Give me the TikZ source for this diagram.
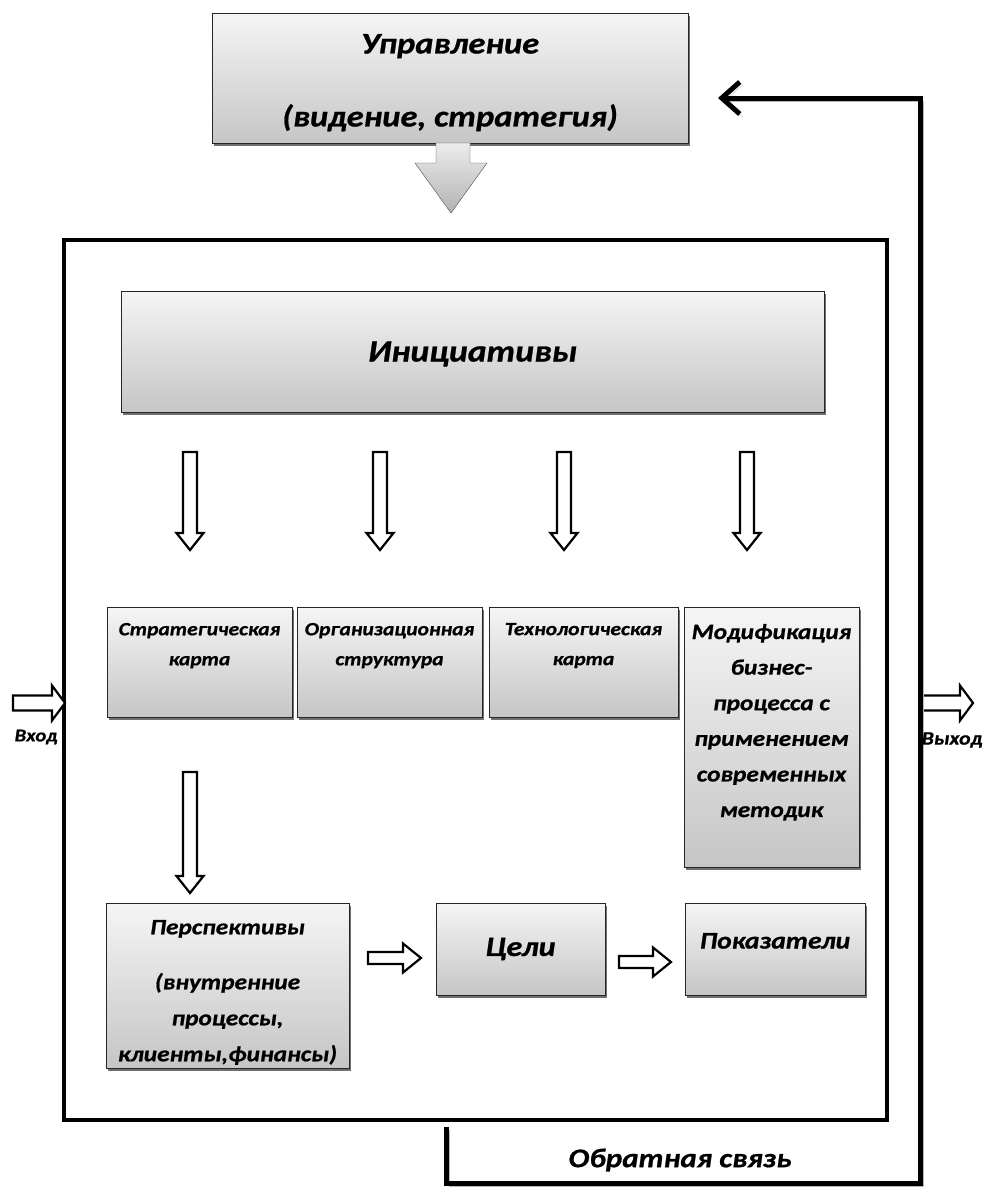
\documentclass[tikz,border=0pt]{standalone}
\usepackage{fontspec}
\setmainfont{Carlito}[FakeStretch=1.15,BoldItalicFeatures={FakeBold=0.8}]
\usetikzlibrary{shadows,arrows.meta}
\newcommand{\bfit}[2]{\fontsize{#1}{#2}\selectfont\bfseries\itshape}
\newcommand{\topbox}[4]{\parbox[c][#2][t]{#1}{\centering\vspace*{#3}#4}}
\tikzset{
	box/.style={draw=black!85,line width=1pt,top color=gray!8,bottom color=gray!45,inner sep=0pt,
		drop shadow={shadow xshift=2pt,shadow yshift=-2.5pt,fill=black!70,opacity=.8}},
	hollow/.style={draw,line width=2.2pt,fill=white,line join=miter},
	fb/.style={line width=5pt,line join=miter},
}
\begin{document}
\begin{tikzpicture}[x=1pt,y=-1pt,>=latex]
		\useasboundingbox (0,0) rectangle (984,1187);
		%cadre
		\node[draw,line width=4pt,minimum width=823pt,minimum height=880pt,inner sep=0pt] (frame) at (475.5,680) {};
		%blocs
		\node[box,font=\bfit{30}{36}] (ctrl) at (450,78) {\topbox{476pt}{130pt}{21pt}{Управление\\[37pt](видение, стратегия)}};
		\node[box,minimum width=703pt,minimum height=121pt,text depth=0pt,font=\bfit{31}{36}] (ini) at (472.5,351.5) {Инициативы};
		\node[box,font=\bfit{18.7}{30}] (strat) at (199.5,662) {\topbox{185pt}{110pt}{16pt}{Стратегическая\\карта}};
		\node[box,font=\bfit{18.7}{30}] (org) at (389.5,662) {\topbox{185pt}{110pt}{16pt}{Организационная\\структура}};
		\node[box,font=\bfit{18.7}{30}] (tech) at (583.5,662) {\topbox{189pt}{110pt}{16pt}{Технологическая\\карта}};
		\node[box,font=\bfit{22}{35.6}] (mod) at (771.5,737) {\topbox{175pt}{260pt}{17pt}{Модификация\\бизнес-\\процесса с\\применением\\современных\\методик}};
		\node[box,font=\bfit{22}{36}] (persp) at (227.5,985.5) {\topbox{243pt}{165pt}{17pt}{Перспективы\\[19pt](внутренние\\процессы,\\клиенты,финансы)}};
		\node[box,minimum width=169pt,minimum height=92pt,font=\bfit{28}{30}] (goals) at (520.5,949) {Цели};
		\node[box,font=\bfit{24}{30}] (ind) at (775,949) {\topbox{180pt}{92pt}{30pt}{Показатели}};
		%fleche grise
		\draw[draw=black!70,top color=gray!15,bottom color=gray!60] (436,143)--(470,143)--(470,163)--(487,163)--(451,213)--(415,163)--(436,163)--cycle ;
		%fleches creuses
		\foreach \x/\ya/\yb in {190/452/550,380/452/550,564/452/550,747/452/550,190/772/893}
		\draw[hollow] (\x-7,\ya)--(\x+7,\ya)--(\x+7,\yb-17)--(\x+13.5,\yb-17)--(\x,\yb)--(\x-13.5,\yb-17)--(\x-7,\yb-17)--cycle ;
		\foreach \xa/\xb/\yc/\sa/\ha/\la in {368/421/958/6/14.5/18,619/671/962/6/14.5/18,13/65/703/7.5/17.5/13,922/973/703/7.5/17.5/13}
		\draw[hollow] (\xa,\yc-\sa)--(\xb-\la,\yc-\sa)--(\xb-\la,\yc-\ha)--(\xb,\yc)--(\xb-\la,\yc+\ha)--(\xb-\la,\yc+\sa)--(\xa,\yc+\sa)--cycle ;
		%retour
		\coordinate (fbstart) at (446,1127) ;
		\coordinate (fbend) at (718,98) ;
		\draw[fb,-{Straight Barb[length=18pt,width=32pt]},preaction={draw=gray!55,transform canvas={shift={(3pt,-3pt)}}}] (fbstart) |- (920,1183) |- (fbend) ;
		%labels
		\node[font=\bfit{27}{30}] (fblabel) at (680,1160) {Обратная связь};
		\node[font=\bfit{18}{20}] (inlabel) at (36,737) {Вход};
		\node[font=\bfit{19}{20}] (outlabel) at (952,740) {Выход};
	\end{tikzpicture}
\end{document}
